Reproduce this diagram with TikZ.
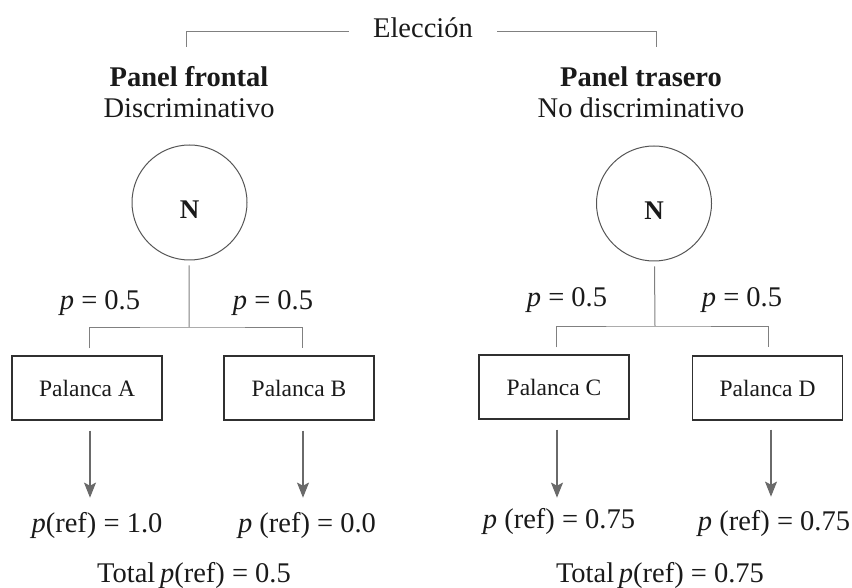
\documentclass[tikz,border=0pt]{standalone}
\usepackage{fontspec}
\setmainfont{Liberation Serif}
\usetikzlibrary{arrows.meta}
\definecolor{treegray}{HTML}{808080}
\definecolor{arrowgray}{HTML}{6A6A6A}
\definecolor{boxedge}{HTML}{303030}
\definecolor{circedge}{HTML}{555555}
\definecolor{ink}{HTML}{1A1A1A}
\begin{document}
\begin{tikzpicture}[x=1pt,y=-1pt,
  txt/.style={font=\fontsize{28.5}{33}\selectfont, text=ink, inner sep=0pt},
  lever/.style={draw=boxedge, line width=1.3pt, minimum width=150pt, minimum height=64pt,
    inner sep=0pt, font=\fontsize{23.5}{27}\selectfont, text=ink},
  chance/.style={circle, draw=circedge, line width=1pt, minimum size=115pt, inner sep=0pt,
    text height=32pt, text depth=0pt, font=\fontsize{27}{30}\selectfont\bfseries, text=ink},
  tree/.style={draw=treegray, line width=1pt},
  arr/.style={draw=arrowgray, line width=1.1pt,
    -{Stealth[length=15pt,width=12pt,inset=3pt]}}]
\useasboundingbox (0,0) rectangle (852,588);

% choice bracket on top
\node[txt, text height=19pt, text depth=7pt, inner xsep=24pt] (el) at (423,32) {Elección};
\coordinate (tl) at (186,47);
\coordinate (tr) at (656,47);
\draw[tree] (tl) |- (el.west);
\draw[tree] (el.east) -| (tr);

% panel headings
\node[txt, anchor=base] (hf) at (189,87) {\textbf{Panel frontal}};
\node[txt, anchor=base] (sf) at (189,118) {Discriminativo};
\node[txt, anchor=base] (ht) at (641,87) {\textbf{Panel trasero}};
\node[txt, anchor=base] (st) at (641,118) {No discriminativo};

% chance nodes
\node[chance] (n1) at (189.5,202.5) {N};
\node[chance] (n2) at (654,203.5) {N};

% levers
\node[lever] (pa) at (87,388) {Palanca A};
\node[lever] (pb) at (299,388) {Palanca B};
\node[lever] (pc) at (554,387) {Palanca C};
\node[lever] (pd) at (767.5,388) {Palanca D};

% branches
\coordinate (j1) at (189,327);
\coordinate (j2) at (655,326);
\draw[tree, shorten <=5pt] (n1) -- (j1);
\draw[tree, shorten <=5pt] (n2) -- (j2);
\draw[tree] ([xshift=2pt,yshift=7pt]pa.north) |- (j1) -| ([xshift=3pt,yshift=7pt]pb.north);
\draw[tree] ([xshift=2pt,yshift=7pt]pc.north) |- (j2) -| ([xshift=0.5pt,yshift=8pt]pd.north);

% branch probabilities
\node[txt, anchor=base] (q1) at (100,309) {\textit{p} = 0.5};
\node[txt, anchor=base] (q2) at (273,309) {\textit{p} = 0.5};
\node[txt, anchor=base] (q3) at (567,307) {\textit{p} = 0.5};
\node[txt, anchor=base] (q4) at (742,307) {\textit{p} = 0.5};

% outcomes
\draw[arr] ([xshift=3pt,yshift=-10pt]pa.south) -- ([xshift=3pt,yshift=-77pt]pa.south);
\draw[arr] ([xshift=4pt,yshift=-10pt]pb.south) -- ([xshift=4pt,yshift=-77pt]pb.south);
\draw[arr] ([xshift=3pt,yshift=-10pt]pc.south) -- ([xshift=3pt,yshift=-78pt]pc.south);
\draw[arr] ([xshift=3.5pt,yshift=-9pt]pd.south) -- ([xshift=3.5pt,yshift=-76pt]pd.south);

\node[txt, anchor=base] (ra) at (97,532) {\textit{p}(ref) = 1.0};
\node[txt, anchor=base] (rb) at (307,532) {\textit{p} (ref) = 0.0};
\node[txt, anchor=base] (rc) at (559,528) {\textit{p} (ref) = 0.75};
\node[txt, anchor=base] (rd) at (774,530) {\textit{p} (ref) = 0.75};

% totals
\node[txt, anchor=base] (ta) at (194,582) {Total\,\textit{p}(ref) = 0.5};
\node[txt, anchor=base] (tb) at (660,582) {Total\,\textit{p}(ref) = 0.75};
\end{tikzpicture}
\end{document}
